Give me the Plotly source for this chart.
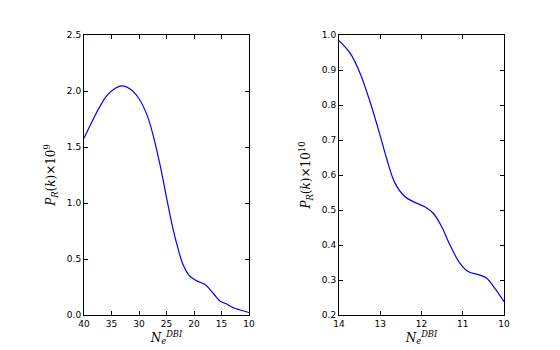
import plotly.graph_objects as go
from plotly.subplots import make_subplots

# left panel: P_R(k) x 10^9 vs N_e^DBI
n_left = [40, 38.55, 37.3, 35.8, 34.3, 33.1, 31.6, 30.05, 28.5, 27.3, 26.0, 25.0,
          24.0, 23.0, 22.0, 21.0, 20.2, 19.3, 18.0, 16.5, 15.3, 14.06, 12.85, 11.6, 10.0]
p_left = [1.578, 1.726, 1.845, 1.96, 2.024, 2.045, 2.018, 1.935, 1.78, 1.58, 1.30, 1.05,
          0.81, 0.61, 0.45, 0.36, 0.325, 0.30, 0.272, 0.194, 0.125, 0.098, 0.065, 0.045, 0.022]

# right panel: P_R(k) x 10^10 vs N_e^DBI
n_right = [14.0, 13.73, 13.49, 13.25, 13.0, 12.84, 12.64, 12.4, 12.2, 11.92,
           11.71, 11.51, 11.31, 11.07, 10.87, 10.58, 10.42, 10.22, 10.0]
p_right = [0.984, 0.948, 0.891, 0.81, 0.712, 0.645, 0.576, 0.538, 0.524, 0.509,
           0.49, 0.452, 0.40, 0.348, 0.324, 0.314, 0.305, 0.276, 0.238]

font = "DejaVu Sans"
fig = make_subplots(rows=1, cols=2)
fig.add_trace(go.Scatter(x=n_left, y=p_left, mode="lines",
                         line=dict(color="#0000ff", width=1.2, shape="spline", smoothing=1.0)),
              row=1, col=1)
fig.add_trace(go.Scatter(x=n_right, y=p_right, mode="lines",
                         line=dict(color="#0000ff", width=1.2, shape="spline", smoothing=1.0)),
              row=1, col=2)

axis_style = dict(showgrid=False, zeroline=False, showline=True, linecolor="black",
                  linewidth=1, mirror="ticks", ticks="inside", ticklen=4,
                  tickcolor="black", automargin=False,
                  tickfont=dict(family=font, size=9, color="black"))

# the page body has an 8px margin, so the figure sits 8px right and down
off = 8
W, H = 560, 350
xtitle = "<i>N</i><sub><i>e</i></sub><sup><i>DBI</i></sup>"
tfont = dict(family="DejaVu Serif", size=12, color="black")
fig.update_xaxes(axis_style)
fig.update_yaxes(axis_style)
fig.update_layout(
    xaxis=dict(domain=[(84 - off)/W, (249 - off)/W], range=[40, 10], dtick=5,
               title=dict(text=xtitle, standoff=2, font=tfont)),
    xaxis2=dict(domain=[(339 - off)/W, (504 - off)/W], range=[14, 10], dtick=1,
                title=dict(text=xtitle, standoff=2, font=tfont)),
    yaxis=dict(domain=[1 - (315 - off)/H, 1 - (35 - off)/H], range=[0, 2.5], dtick=0.5,
               tickformat=".1f",
               title=dict(text="<i>P</i><sub><i>R</i></sub>(<i>k</i>)×10<sup>9</sup>",
                          standoff=8, font=tfont)),
    yaxis2=dict(domain=[1 - (315 - off)/H, 1 - (35 - off)/H], range=[0.2, 1.0], dtick=0.1,
                tickformat=".1f",
                title=dict(text="<i>P</i><sub><i>R</i></sub>(<i>k</i>)×10<sup>10</sup>",
                           standoff=8, font=tfont)),
    width=W, height=H, margin=dict(l=0, r=0, t=0, b=0),
    showlegend=False, plot_bgcolor="white", paper_bgcolor="white",
)

fig.write_html("out.html")
